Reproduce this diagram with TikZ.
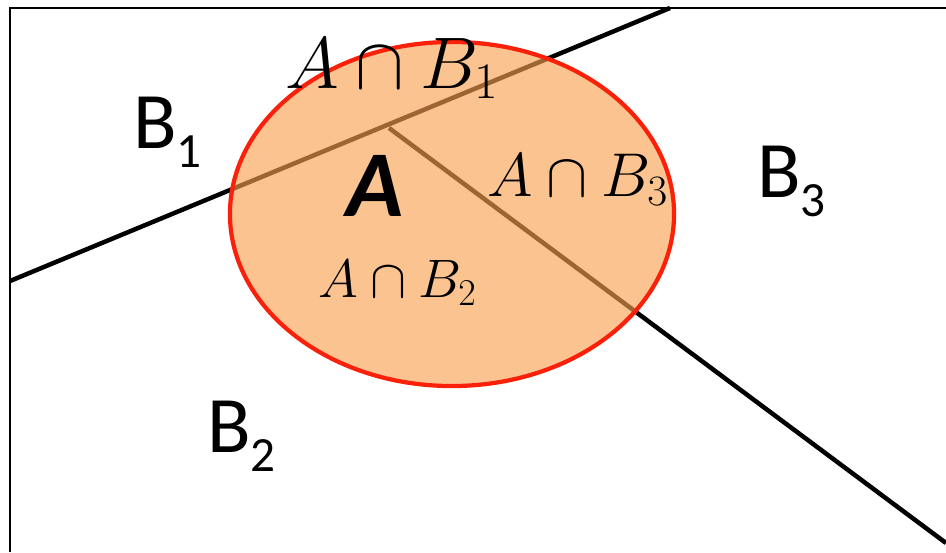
\documentclass[tikz,border=0pt]{standalone}
\usepackage{fix-cm}
\usepackage{fontspec}
\newfontfamily\calibri{Carlito}
\definecolor{setfill}{RGB}{249,160,78}
\definecolor{setline}{RGB}{250,32,10}
\tikzset{
  region/.style={line width=3.2pt,black},
  frame/.style={line width=1.4pt,black},
  setA/.style={fill=setfill,fill opacity=.63,draw=setline,line width=3pt},
  blabel/.style={anchor=base west,inner sep=0,font=\calibri\fontsize{57}{60}\selectfont},
  mlabel/.style={anchor=base west,inner sep=0},
}
\newcommand{\bsub}[1]{B\raisebox{-.24em}{\fontsize{35}{36}\selectfont#1}}
\begin{document}
\begin{tikzpicture}[x=0.025cm,y=-0.025cm]
  \useasboundingbox (0,0) rectangle (946,552);
  \draw[frame] (10,552) -- (10,8) -- (946,8);
  % partition lines
  \coordinate (l1s) at (10,281);
  \coordinate (l1e) at (670,8);
  \coordinate (l2s) at (389,128);
  \coordinate (l2e) at (946,543);
  \draw[region] (l1s) -- (l1e);
  \draw[region] (l2s) -- (l2e);
  % the set A
  \path[setA] (452,214) ellipse [x radius=5.55cm, y radius=4.3cm];
  % labels
  \node[blabel] (b1) at (133,148) {\bsub{1}};
  \node[blabel] (b2) at (207,452) {\bsub{2}};
  \node[blabel] (b3) at (757,197) {\bsub{3}};
  \node[mlabel,font=\fontsize{52}{54}\selectfont] (ab1) at (285,88) {$A\cap B_1$};
  \node[mlabel,font=\fontsize{44}{46}\selectfont] (ab3) at (487,196) {$A\cap B_3$};
  \node[mlabel,font=\fontsize{38.5}{40}\selectfont] (ab2) at (318,297) {$A\cap B_2$};
  \node[mlabel,font=\calibri\bfseries\itshape\fontsize{67}{70}\selectfont] (aset) at (346,216) {A};
\end{tikzpicture}
\end{document}
